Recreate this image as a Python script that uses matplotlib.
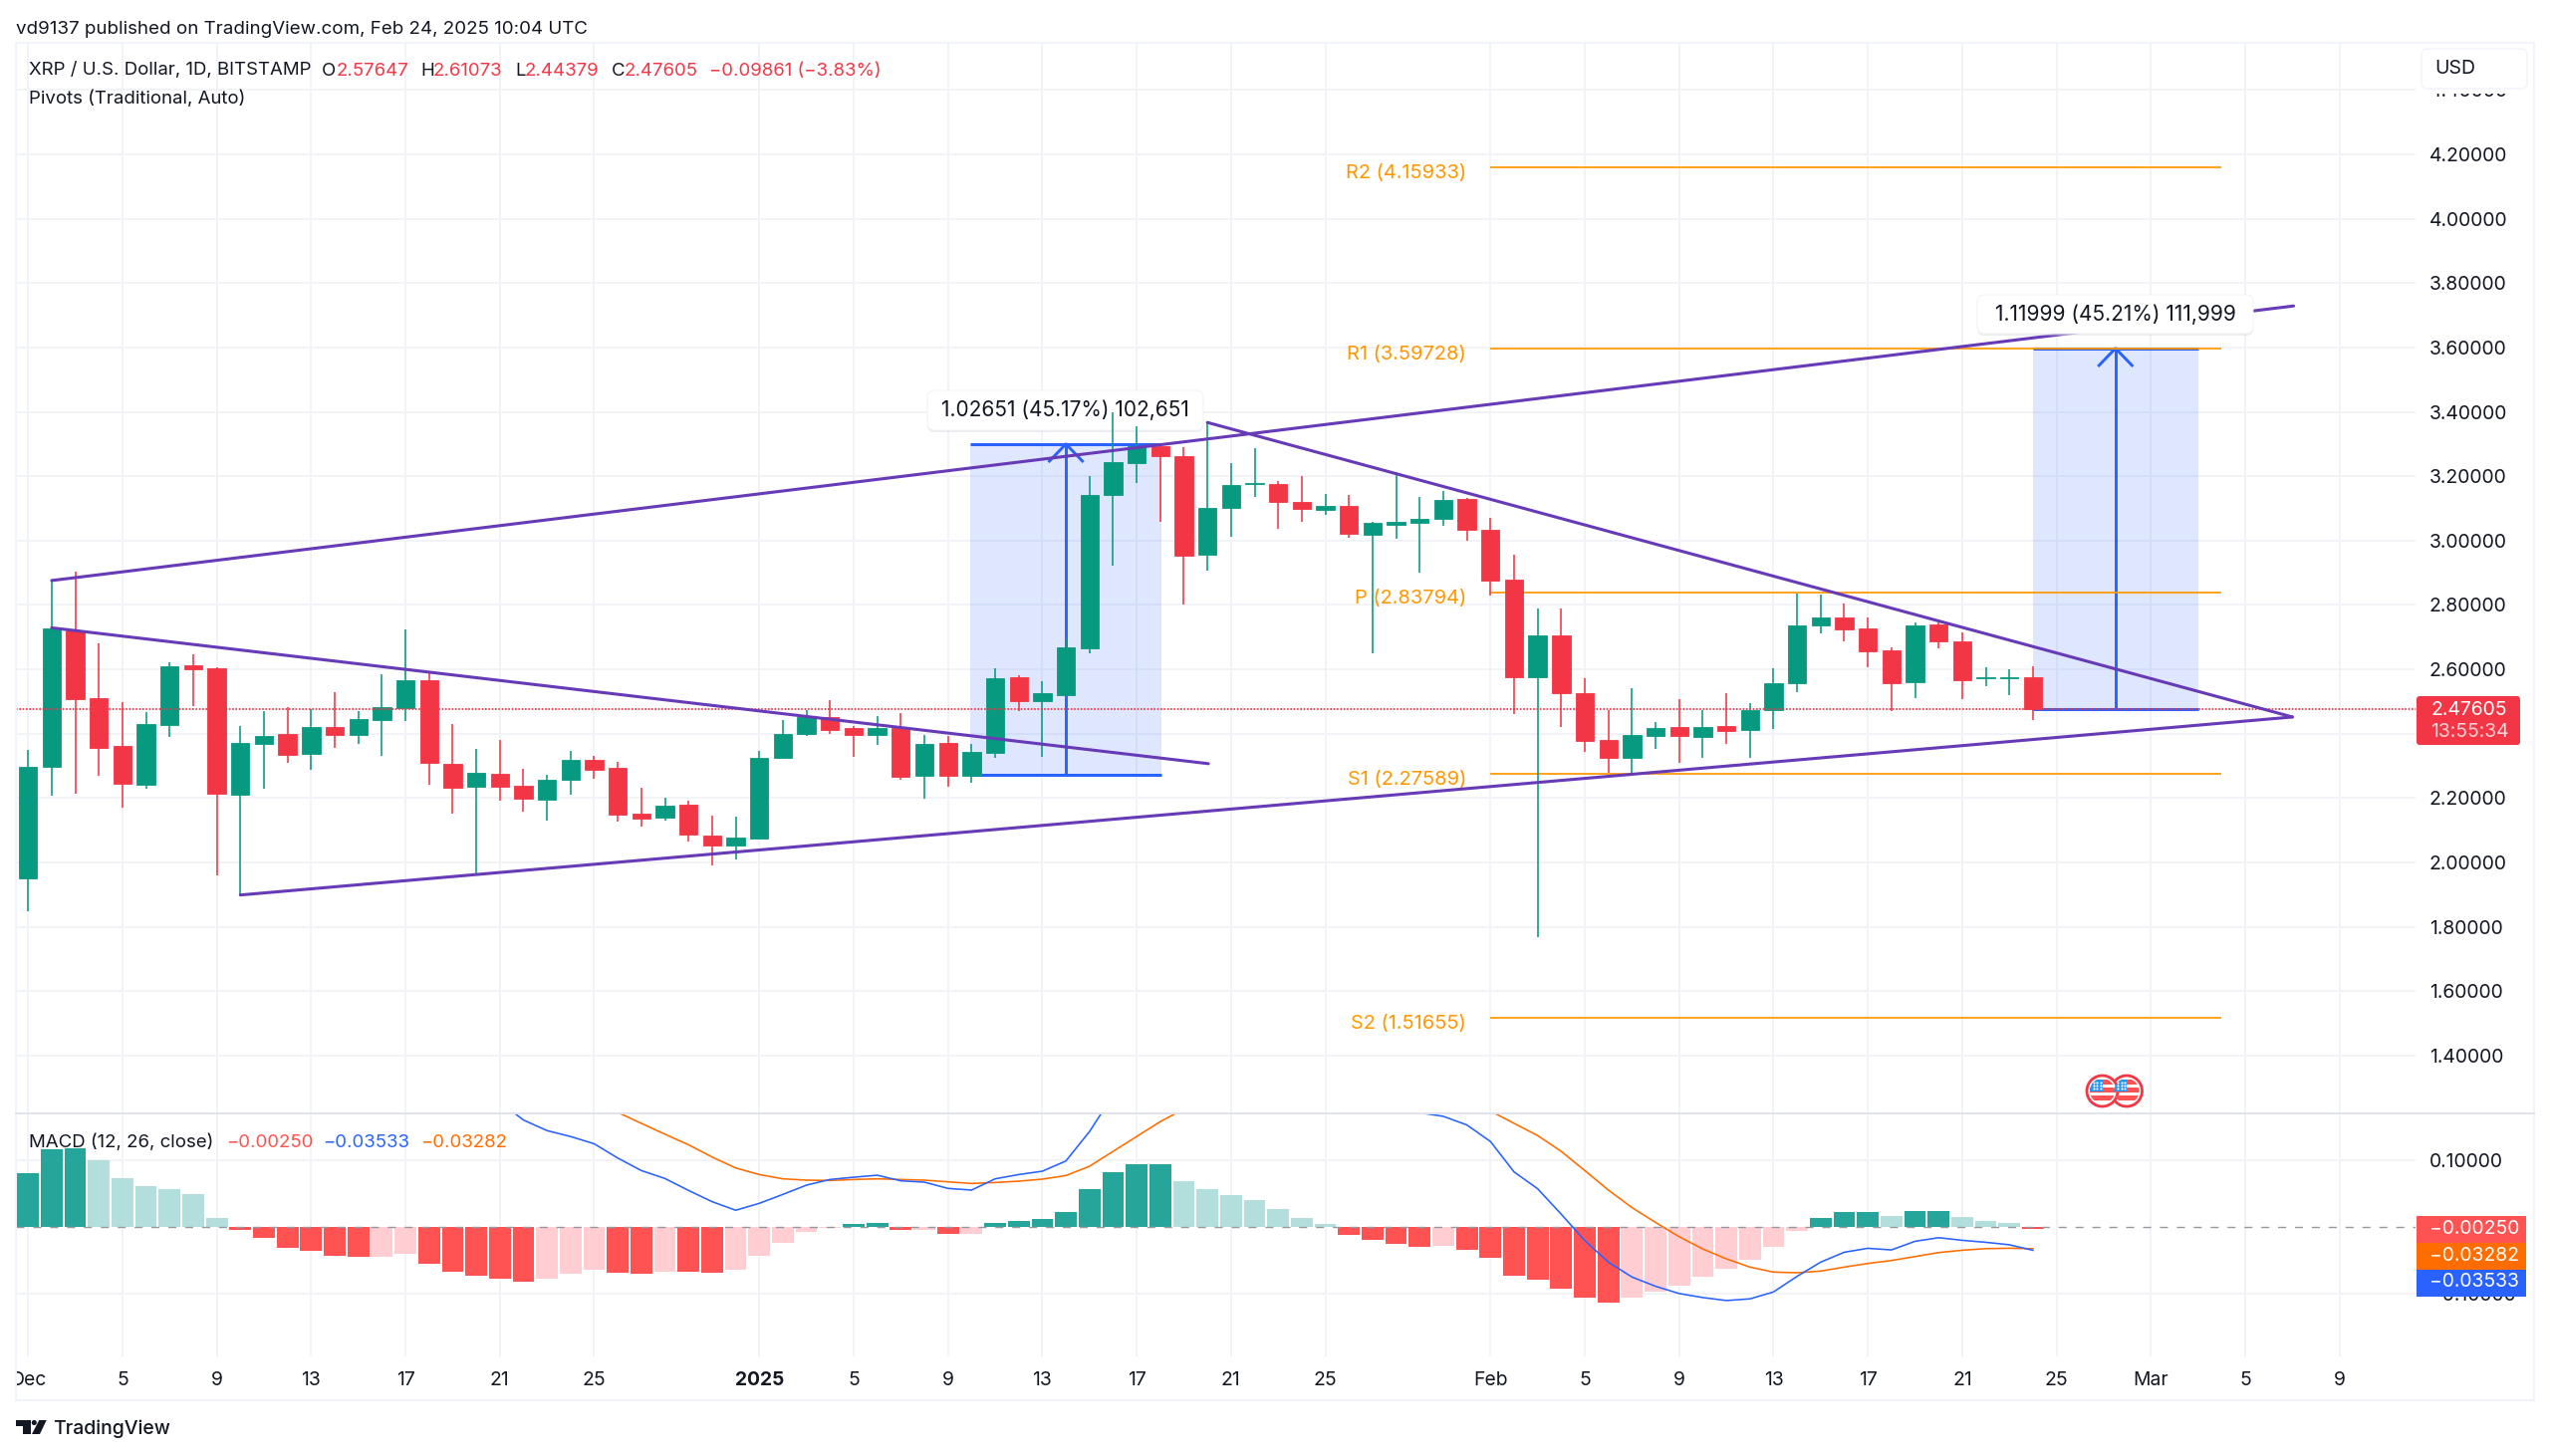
#!/usr/bin/env python3
# XRP / USD daily chart with pivots, measure boxes, trend lines and MACD pane
import numpy as np
import matplotlib
matplotlib.use('Agg')
import matplotlib.pyplot as plt
from matplotlib.patches import Rectangle, FancyBboxPatch, Circle, Polygon

plt.rcParams['font.family'] = ['Inter', 'DejaVu Sans']

# daily candles, index 0 = Dec 1 2024
opens = [1.951, 2.296, 2.722, 2.511, 2.361, 2.242, 2.428, 2.612, 2.602, 2.210,
         2.369, 2.398, 2.337, 2.420, 2.396, 2.444, 2.480, 2.566, 2.305, 2.235,
         2.276, 2.237, 2.196, 2.258, 2.320, 2.293, 2.1505, 2.139, 2.179, 2.083,
         2.052, 2.073, 2.324, 2.398, 2.451, 2.419, 2.397, 2.419, 2.268, 2.372,
         2.270, 2.341, 2.576, 2.502, 2.521, 2.665, 3.142, 3.242, 3.292, 3.263,
         2.955, 3.101, 3.177, 3.177, 3.119, 3.096, 3.107, 3.019, 3.048, 3.055,
         3.069, 3.129, 3.032, 2.880, 2.577, 2.704, 2.527, 2.380, 2.324, 2.392,
         2.422, 2.391, 2.425, 2.411, 2.472, 2.557, 2.735, 2.761, 2.726, 2.658,
         2.559, 2.739, 2.687, 2.5735, 2.5735, 2.57647]
highs = [2.350, 2.876, 2.904, 2.682, 2.497, 2.466, 2.623, 2.648, 2.608, 2.423,
         2.471, 2.484, 2.478, 2.530, 2.471, 2.586, 2.725, 2.591, 2.429, 2.352,
         2.382, 2.291, 2.273, 2.348, 2.330, 2.312, 2.232, 2.201, 2.192, 2.145,
         2.142, 2.346, 2.442, 2.474, 2.503, 2.425, 2.456, 2.465, 2.397, 2.393,
         2.369, 2.602, 2.581, 2.562, 2.694, 3.200, 3.400, 3.354, 3.300, 3.290,
         3.367, 3.241, 3.286, 3.185, 3.202, 3.144, 3.141, 3.059, 3.214, 3.137,
         3.154, 3.134, 3.070, 2.955, 2.788, 2.790, 2.571, 2.472, 2.541, 2.437,
         2.507, 2.473, 2.527, 2.495, 2.604, 2.837, 2.831, 2.804, 2.762, 2.668,
         2.746, 2.745, 2.714, 2.607, 2.599, 2.61073]
lows = [1.848, 2.208, 2.213, 2.270, 2.169, 2.228, 2.389, 2.486, 1.960, 1.899,
        2.230, 2.308, 2.287, 2.355, 2.368, 2.330, 2.439, 2.242, 2.152, 1.961,
        2.192, 2.158, 2.130, 2.210, 2.260, 2.126, 2.110, 2.129, 2.066, 1.991,
        2.008, 2.073, 2.324, 2.394, 2.400, 2.327, 2.365, 2.256, 2.197, 2.234,
        2.248, 2.326, 2.470, 2.329, 2.521, 2.651, 2.921, 3.178, 3.057, 2.801,
        2.908, 3.013, 3.135, 3.037, 3.057, 3.079, 3.008, 2.651, 3.005, 2.901,
        3.047, 3.000, 2.828, 2.461, 1.768, 2.421, 2.343, 2.278, 2.270, 2.353,
        2.310, 2.324, 2.369, 2.325, 2.415, 2.530, 2.712, 2.688, 2.606, 2.469,
        2.510, 2.666, 2.508, 2.549, 2.520, 2.44379]
closes = [2.296, 2.727, 2.508, 2.357, 2.245, 2.429, 2.609, 2.600, 2.213, 2.371,
          2.393, 2.335, 2.422, 2.396, 2.446, 2.484, 2.566, 2.308, 2.233, 2.278,
          2.235, 2.199, 2.257, 2.320, 2.289, 2.149, 2.137, 2.176, 2.086, 2.052,
          2.077, 2.324, 2.399, 2.451, 2.412, 2.395, 2.419, 2.266, 2.369, 2.270,
          2.342, 2.574, 2.502, 2.526, 2.669, 3.141, 3.243, 3.292, 3.264, 2.953,
          3.102, 3.173, 3.179, 3.119, 3.099, 3.107, 3.022, 3.054, 3.057, 3.068,
          3.127, 3.033, 2.875, 2.577, 2.704, 2.526, 2.379, 2.326, 2.397, 2.419,
          2.392, 2.422, 2.410, 2.473, 2.558, 2.738, 2.761, 2.725, 2.657, 2.557,
          2.736, 2.686, 2.567, 2.5745, 2.5745, 2.47605]

hist = [0.0809, 0.117, 0.118, 0.0993, 0.0725, 0.0605, 0.0571, 0.0491, 0.0129,
        -0.0045, -0.0174, -0.0318, -0.0362, -0.0437, -0.0457, -0.0447, -0.0402,
        -0.0551, -0.068, -0.0739, -0.0784, -0.0824, -0.0784, -0.0705, -0.0645,
        -0.0695, -0.0705, -0.067, -0.067, -0.0685, -0.0645, -0.0437, -0.0243,
        -0.0079, -0.001, 0.0035, 0.006, -0.0045, -0.0045, -0.0104, -0.0104,
        0.006, 0.0094, 0.0114, 0.0223, 0.0561, 0.0814, 0.0938, 0.0938, 0.068,
        0.0561, 0.0481, 0.0397, 0.0268, 0.0139, 0.0035, -0.0119, -0.0199, -0.0258,
        -0.0298, -0.0288, -0.0342, -0.0471, -0.0739, -0.0799, -0.0928, -0.1057,
        -0.1132, -0.1067, -0.0978, -0.0883, -0.0749, -0.0635, -0.0491, -0.0308,
        -0.006, 0.0129, 0.0223, 0.0223, 0.0164, 0.0233, 0.0233, 0.0154, 0.009,
        0.0055, -0.0035]

# 0 = fading bar (pale), 1 = growing bar (full colour)
hist_strong = [1, 1, 1, 0, 0, 0, 0, 0, 0, 1, 1, 1, 1, 1, 1, 0, 0, 1, 1, 1, 1, 1,
               0, 0, 0, 1, 1, 0, 1, 1, 0, 0, 0, 0, 0, 1, 1, 1, 0, 1, 0, 1, 1, 1,
               1, 1, 1, 1, 1, 0, 0, 0, 0, 0, 0, 0, 1, 1, 1, 1, 0, 1, 1, 1, 1, 1,
               1, 1, 0, 0, 0, 0, 0, 0, 0, 0, 1, 1, 1, 0, 1, 1, 0, 0, 0, 1]

# lines leave the pane at the top, only the visible parts are kept
nan = float('nan')
macd_line = [nan] * 20 + [
    0.1876, 0.1603, 0.1444, 0.1355, 0.1246, 0.1032, 0.0844, 0.0725, 0.0546,
    0.0377, 0.0248, 0.0352, 0.0486, 0.0625, 0.0710, 0.0744, 0.0774, 0.0690,
    0.0670, 0.0576, 0.0551, 0.0720, 0.0784, 0.0834, 0.0988, 0.1429, 0.1975] + [nan] * 11 + [
    0.1777, 0.1712, 0.1658, 0.1529, 0.1280, 0.0824, 0.0571, 0.0189, -0.0208,
    -0.0531, -0.0754, -0.0893, -0.1002, -0.1062, -0.1107, -0.1082, -0.0978,
    -0.0744, -0.0531, -0.0382, -0.0323, -0.0347, -0.0218, -0.0164, -0.0203,
    -0.0233, -0.0270, -0.03533]
signal_line = [nan] * 24 + [
    0.1886, 0.1717, 0.1553, 0.1390, 0.1231, 0.1047, 0.0883, 0.0784, 0.0720,
    0.0700, 0.0695, 0.0710, 0.0720, 0.0710, 0.0700, 0.0675, 0.0650, 0.0665,
    0.0685, 0.0715, 0.0769, 0.0908, 0.1132, 0.1355, 0.1578, 0.1767] + [nan] * 12 + [
    0.1737, 0.1553, 0.1370, 0.1132, 0.0844, 0.0551, 0.0288, 0.0065, -0.0149,
    -0.0333, -0.0481, -0.0605, -0.0680, -0.0690, -0.0665, -0.0605, -0.0551,
    -0.0506, -0.0447, -0.0387, -0.0352, -0.0328, -0.0322, -0.03282]

pivot_names = ['R2', 'R1', 'P', 'S1', 'S2']
pivot_values = [4.15933, 3.59728, 2.83794, 2.27589, 1.51655]

xtick_pos = [0, 4, 8, 12, 16, 20, 24, 31, 35, 39, 43, 47, 51, 55, 62, 66, 70, 74, 78, 82, 86, 90, 94, 98]
xtick_labels = ['Dec', '5', '9', '13', '17', '21', '25', '2025', '5', '9', '13', '17', '21', '25',
                'Feb', '5', '9', '13', '17', '21', '25', 'Mar', '5', '9']
price_ticks = [1.4, 1.6, 1.8, 2.0, 2.2, 2.4, 2.6, 2.8, 3.0, 3.2, 3.4, 3.6, 3.8, 4.0, 4.2, 4.4]
macd_ticks = [-0.1, 0.1]

# trend lines as (start idx, start price, end idx, end price)
trend_lines = [(1, 2.876, 96.05, 3.729), (1, 2.729, 50.04, 2.307),
               (9, 1.899, 96, 2.452), (50, 3.367, 96, 2.452)]

last_price = 2.47605
UP, DOWN = '#089981', '#f23645'
BLUE, ORANGE, PURPLE = '#2962ff', '#ff9800', '#673ab7'
INK = '#131722'
GRID = '#f2f3f6'
FS = 13.4       # header and legends
FS_AXIS = 13.9  # scale labels and value tags
FS_PIVOT = 14.4
FS_BOX = 15

W, H = 2560, 1462
fig = plt.figure(figsize=(W / 100, H / 100), dpi=100, facecolor='white')


def pane(top, bottom):
    a = fig.add_axes([16 / W, (H - bottom) / H, (2425 - 16) / W, (bottom - top) / H])
    for s in a.spines.values():
        s.set_visible(False)
    a.set_xlim(-0.515, 101.22)
    a.set_xticks(xtick_pos)
    a.yaxis.tick_right()
    a.grid(True, color=GRID, lw=1.4)
    a.set_axisbelow(True)
    a.tick_params(length=0, labelsize=FS_AXIS, labelcolor=INK)
    a.patch.set_alpha(0)
    return a


ax = pane(43, 1117)
ax_m = pane(1118, 1362)

# pixel overlay for the chart furniture
over = fig.add_axes([0, 0, 1, 1], zorder=10)
over.set_xlim(0, W)
over.set_ylim(H, 0)
over.axis('off')
px = over.transData

# price pane
ax.set_ylim(1.2235, 4.5465)
ax.set_yticks(price_ticks)
ax.set_yticklabels([f'{v:.5f}' for v in price_ticks])
ax.tick_params(axis='y', pad=10)
ax.tick_params(axis='x', labelbottom=False)

idx = np.arange(len(opens))
o, h, l, c = map(np.array, (opens, highs, lows, closes))
cols = [UP if cc >= oo else DOWN for oo, cc in zip(o, c)]
ax.vlines(idx, l, h, color=cols, lw=1.15, zorder=3)
ax.bar(idx, np.abs(c - o), bottom=np.minimum(o, c), width=0.775, color=cols,
       edgecolor=cols, lw=0.6, zorder=3.1)


def measure(x0, x1, xa, bottom, top, line_z):
    ax.add_patch(Rectangle((x0, bottom), x1 - x0, top - bottom, fc=BLUE, alpha=0.15, ec='none', zorder=1))
    ax.plot([x0, x1], [bottom, bottom], color=BLUE, lw=2.2, zorder=line_z, solid_capstyle='butt')
    ax.plot([x0, x1], [top, top], color=BLUE, lw=2.2, zorder=line_z, solid_capstyle='butt')
    ax.plot([xa, xa], [bottom, top], color=BLUE, lw=2.1, zorder=line_z)
    ax.plot([xa - 0.7, xa, xa + 0.7], [top - 0.053, top, top - 0.053], color=BLUE, lw=2.1, zorder=line_z)


def label_box(x0, x1, y0, y1, text, z):
    ax.add_patch(FancyBboxPatch((x0, y0 + 2), x1 - x0, y1 - y0, boxstyle='round,pad=0,rounding_size=7',
                                fc='#d5d8e0', ec='none', alpha=0.45, transform=px, zorder=z, clip_on=False))
    ax.add_patch(FancyBboxPatch((x0, y0), x1 - x0, y1 - y0, boxstyle='round,pad=0,rounding_size=7',
                                fc='white', ec='#f0f1f4', lw=0.7, transform=px, zorder=z + 0.05, clip_on=False))
    ax.text((x0 + x1) / 2, (y0 + y1) / 2, text, transform=px, ha='center', va='center',
            fontsize=FS_BOX, color=INK, zorder=z + 0.1)


measure(39.95, 48.03, 44, 2.2735, 3.30, 1.6)
measure(85, 92, 88.5, last_price, 3.59728, 1.4)
label_box(931, 1208, 392, 432, '1.02651 (45.17%) 102,651', 1.8)

# pivots
for name, val in zip(pivot_names, pivot_values):
    ax.plot([62, 93], [val, val], color=ORANGE, lw=1.25, zorder=1.5, solid_capstyle='butt')
    ax.annotate(f'{name} ({val:.5f})', (62, val), xytext=(-17.5, -4.2), textcoords='offset points',
                ha='right', va='center', color=ORANGE, fontsize=FS_PIVOT, zorder=1.5)

# trend lines
for x0, y0, x1, y1 in trend_lines:
    ax.plot([x0, x1], [y0, y1], color=PURPLE, lw=2.2, zorder=4, solid_capstyle='round')

ax.axhline(last_price, color=DOWN, lw=1.3, dashes=(0.9, 0.95), zorder=3.5)
label_box(1985, 2262, 296, 335, '1.11999 (45.21%) 111,999', 5)

# MACD pane
ax_m.set_ylim(-0.1946, 0.1702)
ax_m.set_yticks(macd_ticks)
ax_m.set_yticklabels(['\u22120.10000', '0.10000'])
ax_m.tick_params(axis='y', pad=10)
ax_m.set_xticks(xtick_pos)
ax_m.set_xticklabels(xtick_labels)
ax_m.tick_params(axis='x', pad=11)
for lab, txt in zip(ax_m.get_xticklabels(), xtick_labels):
    if txt == '2025':
        lab.set_fontweight('bold')

bar_cols = []
for v, s in zip(hist, hist_strong):
    if v >= 0:
        bar_cols.append('#26a69a' if s else '#b2dfdb')
    else:
        bar_cols.append('#ff5252' if s else '#ffcdd2')
ax_m.bar(idx, hist, width=0.92, color=bar_cols, zorder=2)
ax_m.axhline(0, color='#9598a1', lw=1, dashes=(5.8, 6.4), zorder=2.5)
ax_m.plot(idx, signal_line, color='#ff6d00', lw=1.15, zorder=3)
ax_m.plot(idx, macd_line, color=BLUE, lw=1.15, zorder=3.1)

# frame
over.add_patch(Rectangle((0, 1364), 15.5, 44, fc='white', ec='none', zorder=1))
over.add_patch(Rectangle((16, 43), 2528, 1363, fc='none', ec='#f0f3fa', lw=1.4, zorder=2))
over.plot([16, 2544], [1118, 1118], color='#e0e3eb', lw=1.4, zorder=2)


def put(x, y, s, color=INK, **kw):
    kw.setdefault('fontsize', FS)
    over.text(x, y, s, color=color, ha=kw.pop('ha', 'left'), va='center', zorder=5, **kw)


# header and legends
put(16, 29, 'vd9137 published on TradingView.com, Feb 24, 2025 10:04 UTC', fontsize=13.5)
put(28.7, 71, 'XRP / U.S. Dollar, 1D, BITSTAMP')
for x, s, col in [(323, 'O', INK), (337.5, '2.57647', DOWN), (422, 'H', INK), (435, '2.61073', DOWN),
                  (517, 'L', INK), (527, '2.44379', DOWN), (614, 'C', INK), (627, '2.47605', DOWN),
                  (712, '\u22120.09861 (\u22123.83%)', DOWN)]:
    put(x, 71, s, col)
put(28.7, 99, 'Pivots (Traditional, Auto)')
put(28.7, 1147, 'MACD (12, 26, close)')
put(227, 1147, '\u22120.00250', '#ff5252')
put(324, 1147, '\u22120.03533', BLUE)
put(422, 1147, '\u22120.03282', '#ff6d00')

# currency button, hides most of the top tick label
over.add_patch(Rectangle((2427, 44), 115, 50, fc='white', ec='none', zorder=3))
over.add_patch(FancyBboxPatch((2431, 49), 106, 40, boxstyle='round,pad=0,rounding_size=6',
                              fc='white', ec='#f0f3fa', lw=1, zorder=4))
put(2444, 69.5, 'USD', fontsize=14)

# value tags
over.add_patch(FancyBboxPatch((2426, 699), 104, 49, boxstyle='round,pad=0,rounding_size=3', fc=DOWN, ec='none', zorder=4))
put(2440, 712.5, '2.47605', 'white', fontsize=FS_AXIS)
put(2440, 735.5, '13:55:34', '#ffd0d4', fontsize=FS_AXIS)
for y0, col, s in [(1221, '#ff5252', '\u22120.00250'), (1248, '#ff6d00', '\u22120.03282'), (1274.5, BLUE, '\u22120.03533')]:
    over.add_patch(Rectangle((2426, y0), 110, 27, fc=col, ec='none', zorder=4))
    put(2439, y0 + 13, s, 'white', fontsize=FS_AXIS)

# event markers
for cx in (2135, 2110.5):
    over.add_patch(Circle((cx, 1095.5), 15.5, fc='white', ec='#f23645', lw=2, zorder=3))
    clip = Circle((cx, 1095.5), 12.5, transform=px)
    for y0 in (1084, 1092, 1100):
        r = Rectangle((cx - 13, y0), 26, 4.5, fc='#ff5252', ec='none', zorder=3.1)
        over.add_patch(r)
        r.set_clip_path(clip)
    r = Rectangle((cx - 13, 1084), 13, 12, fc='#2196f3', ec='none', zorder=3.2)
    over.add_patch(r)
    r.set_clip_path(clip)
    dots_x, dots_y = np.meshgrid([cx - 9, cx - 5.5, cx - 2], [1087, 1090, 1093])
    over.scatter(dots_x.ravel(), dots_y.ravel(), s=2.5, color='white', lw=0, zorder=3.3)

# logo
over.add_patch(Polygon([(15.7, 1426), (30.7, 1426), (30.7, 1440), (23.3, 1440), (23.3, 1431.7), (15.7, 1431.7)],
                       fc=INK, ec='none'))
over.add_patch(Circle((34.3, 1428.5), 2.6, fc=INK, ec='none'))
over.add_patch(Polygon([(39.3, 1426), (46.7, 1426), (40, 1440), (32, 1440)], fc=INK, ec='none'))
put(53, 1435, 'TradingView', fontsize=14, fontweight='medium')

fig.savefig('out.png', dpi=100)
